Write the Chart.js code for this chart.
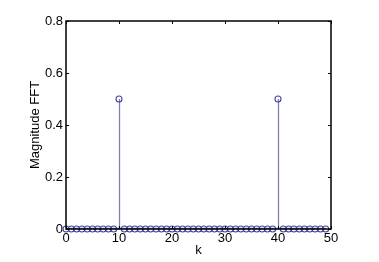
<!DOCTYPE html>
<html>
<head>
<meta charset="utf-8">
<script src="https://cdn.jsdelivr.net/npm/chart.js@4/dist/chart.umd.min.js"></script>
<style>
  html, body { margin: 0; padding: 0; background: #fff; }
  #wrap { width: 379px; height: 262px; }
</style>
</head>
<body>
<div id="wrap"><canvas id="c" width="379" height="262"></canvas></div>
<script>
// data: FFT magnitude over k = 0..49
const kValues = Array.from({ length: 50 }, (_, i) => i);
const peakK = [10, 40];
const peakMag = [0.5, 0.5];
const magnitudes = kValues.map(k => {
    const idx = peakK.indexOf(k);
    return idx >= 0 ? peakMag[idx] : 0;
});
const xTicks = [0, 10, 20, 30, 40, 50];
const yTicks = [0, 0.2, 0.4, 0.6, 0.8];

const stemColor = '#7f7fb2';
const markerColor = '#45459a';

// stems and MATLAB style box with inward ticks
const stemPlugin = {
    id: 'stems',
    beforeDatasetsDraw(chart) {
        const { ctx, scales: { x, y } } = chart;
        ctx.save();
        ctx.strokeStyle = stemColor;
        ctx.lineWidth = 1.3;
        kValues.forEach((k, i) => {
            if (magnitudes[i] === 0) return;
            const px = Math.round(x.getPixelForValue(k)) + 0.5;
            ctx.beginPath();
            ctx.moveTo(px, y.getPixelForValue(0));
            ctx.lineTo(px, y.getPixelForValue(magnitudes[i]));
            ctx.stroke();
        });
        // baseline
        ctx.beginPath();
        ctx.moveTo(x.getPixelForValue(0), Math.round(y.getPixelForValue(0)) - 0.5);
        ctx.lineTo(x.getPixelForValue(49), Math.round(y.getPixelForValue(0)) - 0.5);
        ctx.stroke();
        ctx.restore();
    },
    afterDraw(chart) {
        const { ctx, chartArea: a, scales: { x, y } } = chart;
        ctx.save();
        ctx.strokeStyle = '#000';
        ctx.lineWidth = 1.5;
        ctx.strokeRect(a.left, a.top, a.right - a.left, a.bottom - a.top);
        ctx.lineWidth = 1;
        const t = 3;
        xTicks.forEach(v => {
            const px = Math.round(x.getPixelForValue(v)) + 0.5;
            ctx.beginPath();
            ctx.moveTo(px, a.bottom); ctx.lineTo(px, a.bottom - t);
            ctx.moveTo(px, a.top); ctx.lineTo(px, a.top + t);
            ctx.stroke();
        });
        yTicks.forEach(v => {
            const py = Math.round(y.getPixelForValue(v)) + 0.5;
            ctx.beginPath();
            ctx.moveTo(a.left, py); ctx.lineTo(a.left + t, py);
            ctx.moveTo(a.right, py); ctx.lineTo(a.right - t, py);
            ctx.stroke();
        });
        ctx.restore();
    }
};

new Chart(document.getElementById('c'), {
    type: 'scatter',
    data: {
        datasets: [{
            data: kValues.map((k, i) => ({ x: k, y: magnitudes[i] })),
            showLine: false,
            pointStyle: 'circle',
            pointRadius: 3,
            pointBorderWidth: 1.1,
            pointBorderColor: markerColor,
            pointBackgroundColor: 'rgba(255,255,255,0)'
        }]
    },
    options: {
        responsive: false,
        animation: false,
        clip: false,
        layout: { padding: { left: 28, top: 21, right: 48, bottom: 4 } },
        plugins: { legend: { display: false }, tooltip: { enabled: false } },
        scales: {
            x: {
                type: 'linear',
                min: 0, max: 50,
                afterBuildTicks: s => { s.ticks = xTicks.map(v => ({ value: v })); },
                afterFit: s => { s.height = 29; },
                grid: { display: false, drawTicks: false },
                border: { display: false },
                ticks: { color: '#000', padding: 2, font: { family: 'Liberation Sans', size: 13 } },
                title: { display: true, text: 'k', color: '#000', padding: { top: 0, bottom: 0 },
                    font: { family: 'Liberation Sans', size: 13 } }
            },
            y: {
                min: 0, max: 0.8,
                afterBuildTicks: s => { s.ticks = yTicks.map(v => ({ value: v })); },
                afterFit: s => { s.width = 38; },
                grid: { display: false, drawTicks: false },
                border: { display: false },
                ticks: { color: '#000', padding: 3, font: { family: 'Liberation Sans', size: 13 },
                    callback: v => v === 0 ? '0' : v.toFixed(1) },
                title: { display: true, text: 'Magnitude FFT', color: '#000', padding: { top: 0, bottom: 0 },
                    font: { family: 'Liberation Sans', size: 13 } }
            }
        }
    },
    plugins: [stemPlugin]
});
</script>
</body>
</html>
